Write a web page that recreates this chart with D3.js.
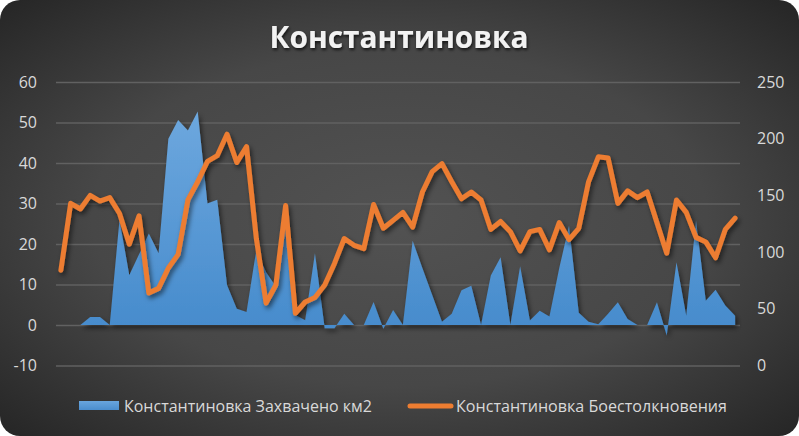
<!DOCTYPE html>
<html>
<head>
<meta charset="utf-8">
<script src="https://cdn.jsdelivr.net/npm/d3@7"></script>
<style>
  html, body { margin: 0; padding: 0; background: #ffffff; }
  svg { display: block; }
  text { font-family: "Open Sans", "Noto Sans", sans-serif; }
</style>
</head>
<body>
<div id="chart"></div>
<script>
// weekly points, no labels on the category axis
const categories = d3.range(1, 71);

// Константиновка Захвачено км2 (left axis)
const captured = [
    0, 0, 0, 2, 2, 0, 26, 12.3, 17.5, 22.6,
    17.7, 46, 50.6, 48, 52.7, 30, 30.9, 9.9, 4, 3.2,
    18.5, 13, 9.5, 27, 2.5, 1.2, 17.7, -0.8, -0.8, 2.8,
    0, 0, 5.7, -0.9, 3.7, 0, 20.8, 14, 7.4, 0.8,
    2.8, 8.6, 9.7, 0, 12.2, 16.7, 0, 14.5, 1.1, 3.5,
    2.1, 14, 24.5, 3, 0.8, 0.2, 2.8, 5.6, 1.5, 0,
    0, 5.6, -2.6, 15.5, 2.3, 25.8, 6, 8.7, 4.8, 2.3
];

// Константиновка Боестолкновения (right axis)
const clashes = [
    84, 143, 138, 150, 145, 148, 134, 107, 132, 64,
    68, 86, 98, 146, 162, 180, 185, 204, 179, 193,
    112, 55, 71, 141, 46, 56, 60, 71, 90, 112,
    106, 103, 142, 121, 128, 135, 122, 153, 171, 178,
    162, 147, 153, 146, 120, 127, 118, 101, 118, 120,
    102, 126, 111, 121, 162, 184, 183, 143, 154, 148,
    153, 126, 99, 146, 135, 113, 109, 95, 120, 130
];

const leftTicks = [-10, 0, 10, 20, 30, 40, 50, 60];
const rightTicks = [0, 50, 100, 150, 200, 250];

const title = "Константиновка";
const seriesNames = ["Константиновка Захвачено км2", "Константиновка Боестолкновения"];

const width = 799, height = 436;

let svg = d3.select("#chart").append("svg")
    .attr("width", width)
    .attr("height", height);

let defs = svg.append("defs");

let bg = defs.append("radialGradient").attr("id", "bg")
    .attr("cx", "50%").attr("cy", "50%").attr("r", "70%");
bg.append("stop").attr("offset", "0%").attr("stop-color", "#525252");
bg.append("stop").attr("offset", "55%").attr("stop-color", "#474747");
bg.append("stop").attr("offset", "100%").attr("stop-color", "#262626");

let blueGrad = defs.append("linearGradient").attr("id", "blueFill")
    .attr("gradientUnits", "userSpaceOnUse")
    .attr("x1", 0).attr("y1", 100).attr("x2", 0).attr("y2", 370);
blueGrad.append("stop").attr("offset", "0%").attr("stop-color", "#6fa9df");
blueGrad.append("stop").attr("offset", "100%").attr("stop-color", "#3f86c9");

let legGrad = defs.append("linearGradient").attr("id", "legFill")
    .attr("x1", 0).attr("y1", 0).attr("x2", 0).attr("y2", 1);
legGrad.append("stop").attr("offset", "0%").attr("stop-color", "#69a5dd");
legGrad.append("stop").attr("offset", "100%").attr("stop-color", "#4a8dcd");

let shadow = defs.append("filter").attr("id", "shadow")
    .attr("x", "-10%").attr("y", "-10%").attr("width", "120%").attr("height", "130%");
shadow.append("feDropShadow")
    .attr("dx", 2).attr("dy", 3).attr("stdDeviation", 2.5)
    .attr("flood-color", "#000").attr("flood-opacity", 0.55);

let textShadow = defs.append("filter").attr("id", "textShadow");
textShadow.append("feDropShadow")
    .attr("dx", 1).attr("dy", 2).attr("stdDeviation", 1.5)
    .attr("flood-color", "#000").attr("flood-opacity", 0.7);

svg.append("rect")
    .attr("x", 0).attr("y", 0)
    .attr("width", width).attr("height", height)
    .attr("rx", 20).attr("ry", 20)
    .attr("fill", "url(#bg)");

// scales
let x = d3.scalePoint()
    .domain(categories)
    .range([56, 740])
    .padding(0.5);

let yLeft = d3.scaleLinear().domain([-10, 60]).range([365.5, 82]);
let yRight = d3.scaleLinear().domain([0, 250]).range([365.5, 82]);

// gridlines
let grid = svg.append("g")
    .attr("transform", "translate(56,0)")
    .call(d3.axisLeft(yLeft).tickValues(leftTicks).tickSize(-684).tickFormat(""));
grid.select(".domain").remove();
grid.selectAll("line").attr("stroke", "#616161").attr("stroke-width", 1.5);

// left axis labels (plain hyphen for negatives, like the original)
let leftAxis = svg.append("g")
    .attr("transform", "translate(37,0)")
    .call(d3.axisLeft(yLeft).tickValues(leftTicks).tickSize(0).tickPadding(0)
        .tickFormat(d => String(d)));
leftAxis.select(".domain").remove();
leftAxis.selectAll("text")
    .attr("fill", "#d9d9d9")
    .style("font-size", "16px")
    .style("font-family", "'Open Sans', sans-serif");

// right axis labels
let rightAxis = svg.append("g")
    .attr("transform", "translate(757,0)")
    .call(d3.axisRight(yRight).tickValues(rightTicks).tickSize(0).tickPadding(0)
        .tickFormat(d => String(d)));
rightAxis.select(".domain").remove();
rightAxis.selectAll("text")
    .attr("fill", "#d9d9d9")
    .style("font-size", "16px")
    .style("font-family", "'Open Sans', sans-serif");

// area series
let area = d3.area()
    .x((d, i) => x(categories[i]))
    .y0(yLeft(0))
    .y1(d => yLeft(d));

svg.append("path")
    .datum(captured)
    .attr("d", area)
    .attr("fill", "url(#blueFill)")
    .attr("filter", "url(#shadow)");

// line series
let line = d3.line()
    .x((d, i) => x(categories[i]))
    .y(d => yRight(d));

svg.append("path")
    .datum(clashes)
    .attr("d", line)
    .attr("fill", "none")
    .attr("stroke", "#ed7d31")
    .attr("stroke-width", 5)
    .attr("stroke-linejoin", "round")
    .attr("stroke-linecap", "round")
    .attr("filter", "url(#shadow)");

// title
svg.append("text")
    .attr("x", 399)
    .attr("y", 48)
    .attr("text-anchor", "middle")
    .attr("fill", "#f2f2f2")
    .attr("font-weight", "bold")
    .attr("font-size", 30)
    .attr("textLength", 259)
    .attr("lengthAdjust", "spacingAndGlyphs")
    .attr("filter", "url(#textShadow)")
    .text(title);

// legend
let legend = svg.append("g");

legend.append("rect")
    .attr("x", 79).attr("y", 401)
    .attr("width", 40).attr("height", 9)
    .attr("fill", "url(#legFill)");

legend.append("text")
    .attr("x", 124).attr("y", 412)
    .attr("fill", "#d9d9d9")
    .attr("font-size", 17)
    .attr("textLength", 248)
    .attr("lengthAdjust", "spacingAndGlyphs")
    .text(seriesNames[0]);

legend.append("line")
    .attr("x1", 410).attr("x2", 451)
    .attr("y1", 406).attr("y2", 406)
    .attr("stroke", "#ed7d31")
    .attr("stroke-width", 5)
    .attr("stroke-linecap", "round");

legend.append("text")
    .attr("x", 456).attr("y", 412)
    .attr("fill", "#d9d9d9")
    .attr("font-size", 17)
    .attr("textLength", 271)
    .attr("lengthAdjust", "spacingAndGlyphs")
    .text(seriesNames[1]);
</script>
</body>
</html>
